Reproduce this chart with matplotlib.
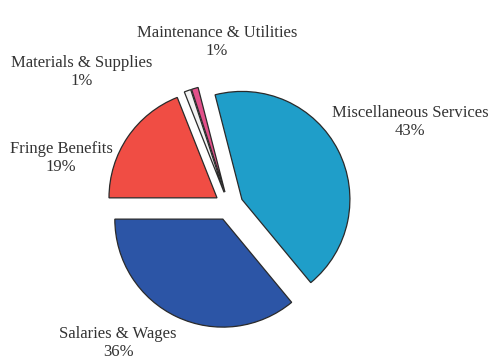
import matplotlib
matplotlib.use("Agg")
import matplotlib.pyplot as plt

# Budget shares by expense category (percent of total)
categories = ["Salaries & Wages", "Miscellaneous Services", "Maintenance & Utilities",
              "Materials & Supplies", "Fringe Benefits"]
shares = [36, 43, 1, 1, 19]
colors = ["#2c55a6", "#1f9ec9", "#e2508a", "#f2f2f2", "#f04d44"]

# label anchor points (x, y) in figure pixels, y measured from the top
label_pos = [(118, 343), (410, 122), (217, 42), (82, 72), (61, 158)]

W, H = 492, 360
fig = plt.figure(figsize=(W / 100, H / 100), dpi=100)
ax = fig.add_axes([0, 0, 1, 1])

# explode is given in data units (pixels here)
ax.pie(shares, colors=colors, startangle=180, counterclock=True,
       center=(229, H - 206), radius=108, explode=[14.5] * len(shares),
       wedgeprops=dict(edgecolor="#2a2a2a", linewidth=0.9))

# pixel-based coordinate frame (set after pie, which overrides limits)
ax.set_xlim(0, W)
ax.set_ylim(0, H)
ax.set_aspect("equal")
ax.axis("off")

for name, val, (x, y) in zip(categories, shares, label_pos):
    ax.text(x, H - y, f"{name}\n{val:.0f}%", ha="center", va="center",
            fontsize=12, family="Liberation Serif", color="#333333",
            linespacing=1.12)

fig.savefig("out.png", dpi=100, facecolor="white")
